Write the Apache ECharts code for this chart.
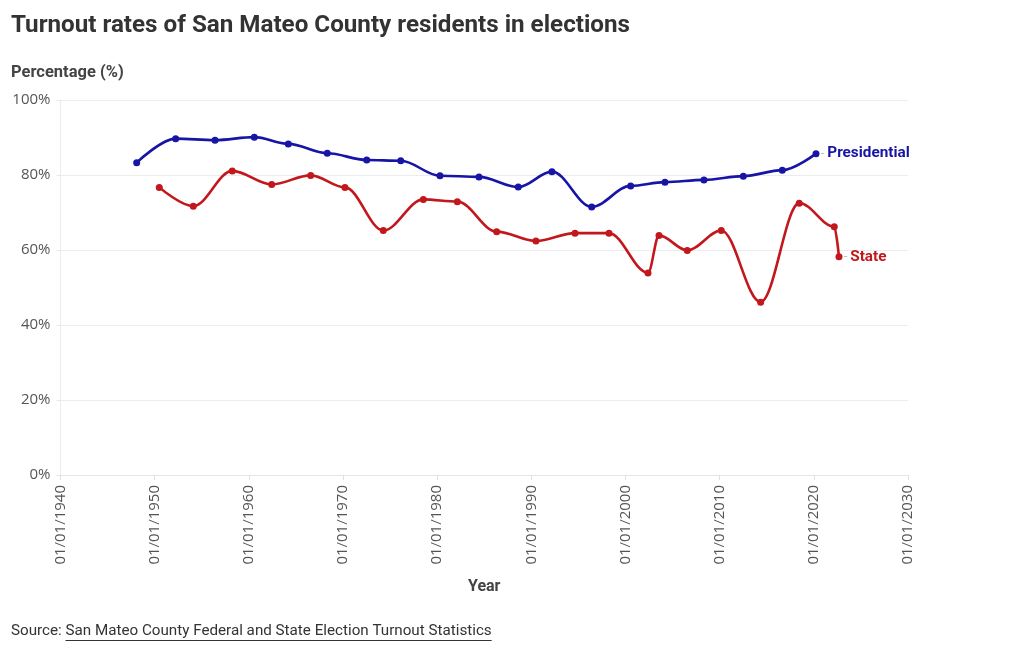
<!DOCTYPE html>
<html>
<head>
<meta charset="utf-8">
<script src="https://cdn.jsdelivr.net/npm/echarts@6/dist/echarts.min.js"></script>
<style>
  html, body { margin: 0; padding: 0; background: #fff; }
  #chart { width: 1020px; height: 650px; }
</style>
</head>
<body>
<div id="chart"></div>
<script>
// Election dates as decimal years
const presYears = [1948.09, 1952.23, 1956.41, 1960.58, 1964.19, 1968.33, 1972.52, 1976.13, 1980.30, 1984.44, 1988.61, 1992.19, 1996.41, 2000.55, 2004.19, 2008.33, 2012.51, 2016.65, 2020.23];
const presValues = [83.3, 89.7, 89.3, 90.1, 88.3, 85.8, 84.0, 83.8, 79.8, 79.5, 76.8, 80.9, 71.5, 77.1, 78.1, 78.7, 79.7, 81.3, 85.7];

const stateYears = [1950.49, 1954.10, 1958.24, 1962.43, 1966.57, 1970.21, 1974.28, 1978.53, 1982.14, 1986.32, 1990.49, 1994.64, 1998.25, 2002.39, 2003.56, 2006.56, 2010.17, 2014.35, 2018.45, 2022.17, 2022.67];
const stateValues = [76.7, 71.7, 81.1, 77.5, 79.9, 76.7, 65.2, 73.5, 72.9, 64.9, 62.4, 64.5, 64.5, 53.9, 63.9, 59.9, 65.2, 46.1, 72.5, 66.2, 58.2];

const yTicks = [0, 20, 40, 60, 80, 100];
const xTicks = [1940, 1950, 1960, 1970, 1980, 1990, 2000, 2010, 2020, 2030];

const titleText = 'Turnout rates of San Mateo County residents in elections';
const yAxisTitle = 'Percentage (%)';
const xAxisTitle = 'Year';
const sourceLabel = 'Source: ';
const sourceLink = 'San Mateo County Federal and State Election Turnout Statistics';

const BLUE = '#1714a6';
const RED = '#c2171c';
const FONT = 'Roboto';
const TICKFONT = 'Open Sans';

function zip(xs, ys) { return xs.map((x, i) => [x, ys[i]]); }

const ctx = document.createElement('canvas').getContext('2d');
ctx.font = '15.2px ' + FONT;
const srcLabelW = ctx.measureText(sourceLabel).width;
const srcLinkW = ctx.measureText(sourceLink).width;

const chart = echarts.init(document.getElementById('chart'), null, { renderer: 'canvas' });
chart.setOption({
  animation: false,
  backgroundColor: '#fff',
  textStyle: { fontFamily: FONT },
  title: {
    text: titleText,
    left: 6, top: 9,
    textStyle: { fontFamily: FONT, fontSize: 24.2, fontWeight: 'bold', color: '#333' }
  },
  grid: { left: 60.5, right: 112, top: 100, bottom: 175, containLabel: false },
  xAxis: {
    type: 'value',
    min: xTicks[0], max: xTicks[xTicks.length - 1], interval: 10,
    name: xAxisTitle,
    nameLocation: 'middle',
    nameGap: 104,
    nameTextStyle: { fontFamily: FONT, fontSize: 16, fontWeight: 'bold', color: '#444' },
    axisLine: { show: true, lineStyle: { color: '#e6e6e6' } },
    axisTick: { show: true, length: 5, lineStyle: { color: '#e0e0e0' } },
    splitLine: { show: false },
    axisLabel: {
      rotate: 90, margin: 10,
      fontFamily: TICKFONT, fontSize: 15, color: '#555',
      formatter: v => '01/01/' + v
    }
  },
  yAxis: {
    type: 'value', min: yTicks[0], max: yTicks[yTicks.length - 1], interval: 20,
    axisLine: { show: true, lineStyle: { color: '#ececec' } },
    axisTick: { show: true, length: 4, lineStyle: { color: '#e6e6e6' } },
    splitLine: { show: true, lineStyle: { color: '#ececec', width: 1 } },
    axisLabel: {
      margin: 10,
      fontFamily: TICKFONT, fontSize: 15, color: '#555',
      formatter: v => v + '%'
    }
  },
  series: [
    {
      name: 'Presidential', type: 'line',
      data: zip(presYears, presValues),
      smooth: 0.35, smoothMonotone: 'x',
      symbol: 'circle', symbolSize: 7,
      lineStyle: { color: BLUE, width: 2.6 },
      itemStyle: { color: BLUE },
      endLabel: {
        show: true, distance: 5,
        formatter: '{d|-} {n|{a}}',
        rich: {
          d: { color: '#bbb', fontSize: 12, fontFamily: FONT },
          n: { color: BLUE, fontSize: 15.3, fontWeight: 'bold', fontFamily: FONT }
        }
      }
    },
    {
      name: 'State', type: 'line',
      data: zip(stateYears, stateValues),
      smooth: 0.35, smoothMonotone: 'x',
      symbol: 'circle', symbolSize: 7,
      lineStyle: { color: RED, width: 2.6 },
      itemStyle: { color: RED },
      endLabel: {
        show: true, distance: 5,
        formatter: '{d|-} {n|{a}}',
        rich: {
          d: { color: '#bbb', fontSize: 12, fontFamily: FONT },
          n: { color: RED, fontSize: 15.3, fontWeight: 'bold', fontFamily: FONT }
        }
      }
    }
  ],
  graphic: [
    {
      type: 'text', left: 11, top: 64,
      style: { text: yAxisTitle, fontFamily: FONT, fontSize: 16.5, fontWeight: 'bold', fill: '#444' }
    },
    {
      type: 'text', left: 11, top: 624,
      style: { text: sourceLabel, fontFamily: FONT, fontSize: 15.2, fill: '#333' }
    },
    {
      type: 'text', left: 11 + srcLabelW, top: 624,
      style: { text: sourceLink, fontFamily: FONT, fontSize: 15.2, fill: '#333' }
    },
    {
      type: 'line',
      shape: { x1: 11 + srcLabelW, y1: 640.5, x2: 11 + srcLabelW + srcLinkW, y2: 640.5 },
      style: { stroke: '#333', lineWidth: 1 }
    }
  ]
});
</script>
</body>
</html>
